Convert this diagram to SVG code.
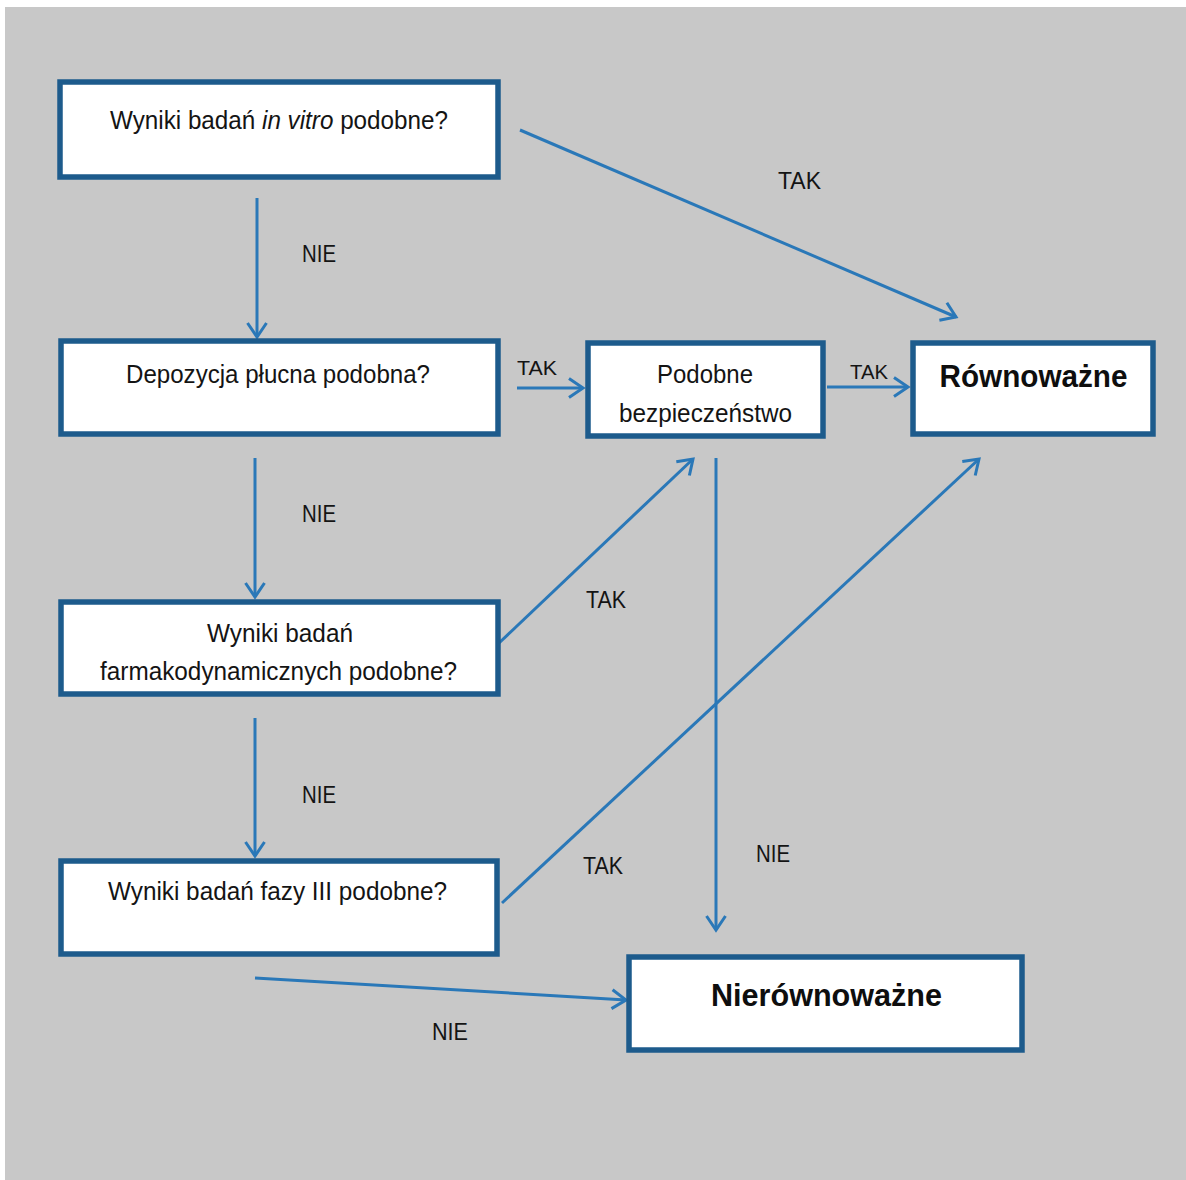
<svg xmlns="http://www.w3.org/2000/svg" width="1186" height="1180" viewBox="0 0 1186 1180">
<defs>
<style>
.box{fill:#ffffff;stroke:#1d5b8c;stroke-width:5.5}
.t{font-family:"Liberation Sans",Arial,sans-serif;font-size:25px;fill:#141414;text-anchor:middle}
.b{font-family:"Liberation Sans",Arial,sans-serif;font-size:31px;font-weight:bold;fill:#0e0e0e;text-anchor:middle}
.l{font-family:"Liberation Sans",Arial,sans-serif;font-size:23px;fill:#141414;text-anchor:middle}
.ls{font-family:"Liberation Sans",Arial,sans-serif;font-size:20px;fill:#141414;text-anchor:middle}
.c{fill:none;stroke:#2a78b8;stroke-width:3;marker-end:url(#ah)}
</style>
<marker id="ah" markerUnits="userSpaceOnUse" viewBox="-18 -12 22 24" refX="0" refY="0" markerWidth="22" markerHeight="24" orient="auto">
<path d="M-14,-9.5 L0,0 L-14,9.5" fill="none" stroke="#2a78b8" stroke-width="3" stroke-linejoin="miter"/>
</marker>
</defs>
<rect x="0" y="0" width="1186" height="1180" fill="#ffffff"/>
<rect x="5" y="7" width="1181" height="1173" fill="#c8c8c8"/>

<g id="connectors">
<line class="c" x1="257" y1="198" x2="257" y2="337"/>
<line class="c" x1="255" y1="458" x2="255" y2="597"/>
<line class="c" x1="255" y1="718" x2="255" y2="856"/>
<line class="c" x1="255" y1="978" x2="626" y2="1000"/>
<line class="c" x1="520" y1="130" x2="956" y2="317"/>
<line class="c" x1="517" y1="388" x2="583" y2="388"/>
<line class="c" x1="827" y1="387" x2="908" y2="387"/>
<line class="c" x1="499" y1="643" x2="693" y2="459"/>
<line class="c" x1="502" y1="903" x2="979" y2="459"/>
<line class="c" x1="716" y1="458" x2="716" y2="930"/>
<text class="l" x="319" y="262" textLength="34" lengthAdjust="spacingAndGlyphs">NIE</text>
<text class="l" x="319" y="522" textLength="34" lengthAdjust="spacingAndGlyphs">NIE</text>
<text class="l" x="319" y="803" textLength="34" lengthAdjust="spacingAndGlyphs">NIE</text>
<text class="l" x="450" y="1040" textLength="36" lengthAdjust="spacingAndGlyphs">NIE</text>
<text class="l" x="773" y="862" textLength="34" lengthAdjust="spacingAndGlyphs">NIE</text>
<text class="l" x="799.5" y="189" textLength="43" lengthAdjust="spacingAndGlyphs">TAK</text>
<text class="ls" x="537" y="375" textLength="40" lengthAdjust="spacingAndGlyphs">TAK</text>
<text class="ls" x="869" y="379" textLength="38" lengthAdjust="spacingAndGlyphs">TAK</text>
<text class="l" x="606" y="608" textLength="40" lengthAdjust="spacingAndGlyphs">TAK</text>
<text class="l" x="603" y="874" textLength="40" lengthAdjust="spacingAndGlyphs">TAK</text>
</g>

<g id="n-invitro">
<rect class="box" x="60" y="82" width="438" height="95"/>
<text class="t" x="279" y="129" textLength="338" lengthAdjust="spacingAndGlyphs">Wyniki badań <tspan font-style="italic">in vitro</tspan> podobne?</text>
</g>
<g id="n-depozycja">
<rect class="box" x="61" y="341" width="437" height="93"/>
<text class="t" x="278" y="383" textLength="304" lengthAdjust="spacingAndGlyphs">Depozycja płucna podobna?</text>
</g>
<g id="n-farmako">
<rect class="box" x="61" y="602" width="437" height="92"/>
<text class="t" x="280" y="642" textLength="146" lengthAdjust="spacingAndGlyphs">Wyniki badań</text>
<text class="t" x="278.5" y="680" textLength="357" lengthAdjust="spacingAndGlyphs">farmakodynamicznych podobne?</text>
</g>
<g id="n-fazy3">
<rect class="box" x="61" y="861" width="436" height="93"/>
<text class="t" x="277.5" y="900" textLength="339" lengthAdjust="spacingAndGlyphs">Wyniki badań fazy III podobne?</text>
</g>
<g id="n-bezp">
<rect class="box" x="588" y="343" width="235" height="93"/>
<text class="t" x="705" y="383" textLength="96" lengthAdjust="spacingAndGlyphs">Podobne</text>
<text class="t" x="705.5" y="422" textLength="173" lengthAdjust="spacingAndGlyphs">bezpieczeństwo</text>
</g>
<g id="n-rown">
<rect class="box" x="913" y="343" width="240" height="91"/>
<text class="b" x="1033.5" y="387" textLength="188" lengthAdjust="spacingAndGlyphs">Równoważne</text>
</g>
<g id="n-nierown">
<rect class="box" x="629" y="957" width="393" height="93"/>
<text class="b" x="826.5" y="1006" textLength="231" lengthAdjust="spacingAndGlyphs">Nierównoważne</text>
</g>
</svg>
